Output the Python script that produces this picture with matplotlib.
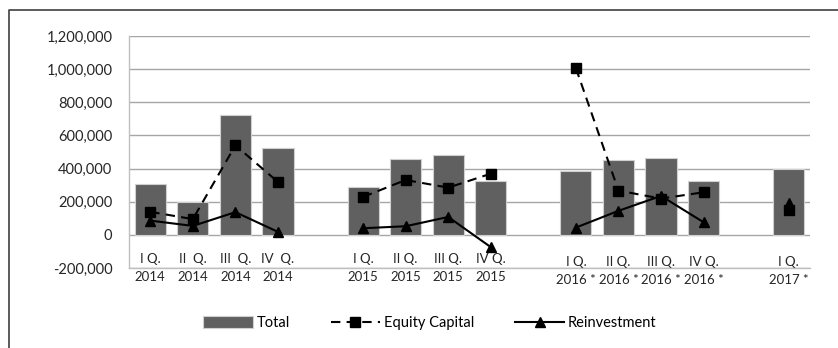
import numpy as np
import matplotlib
matplotlib.use("Agg")
import matplotlib.pyplot as plt
from matplotlib.lines import Line2D
from matplotlib.ticker import FuncFormatter, MultipleLocator

plt.rcParams['font.family'] = ['Lato', 'DejaVu Sans']

# quarters, with an empty slot between the years
quarters = ["I Q.", "II  Q.", "III  Q.", "IV  Q.", "",
            "I Q.", "II Q.", "III Q.", "IV Q.", "",
            "I Q.", "II Q.", "III Q.", "IV Q.", "",
            "I Q."]
years = ["2014", "2014", "2014", "2014", "",
         "2015", "2015", "2015", "2015", "",
         "2016 *", "2016 *", "2016 *", "2016 *", "",
         "2017 *"]

nan = np.nan
total = [307000, 197000, 721000, 522000, nan,
         287000, 458000, 480000, 323000, nan,
         384000, 452000, 464000, 325000, nan,
         398000]
equity = [139000, 95000, 540000, 319000, nan,
          229000, 331000, 285000, 369000, nan,
          1006000, 267000, 219000, 257000, nan,
          148000]
reinvest = [86000, 54000, 137000, 18000, nan,
            40000, 52000, 108000, -74000, nan,
            44000, 145000, 235000, 76000, nan,
            195000]

W, H = 838, 348
fig = plt.figure(figsize=(W / 100, H / 100), dpi=100)
ax = fig.add_axes([129 / W, 1 - 268 / H, (810 - 129) / W, (268 - 36) / H])

x = np.arange(len(quarters))
h_bar = ax.bar(x, total, width=0.73, color='#606060', edgecolor='#d0d0d0',
               linewidth=0.8, zorder=2, label='Total')
h_eq, = ax.plot(x, equity, color='black', linestyle=(0, (4.5, 3)), linewidth=1.5,
                marker='s', markersize=6.5, zorder=3, label='Equity Capital')
h_re, = ax.plot(x, reinvest, color='black', linestyle='-', linewidth=1.5,
                marker='^', markersize=7, zorder=4, label='Reinvestment')

ax.set_xlim(-0.5, len(quarters) - 0.5)
ax.set_ylim(-200000, 1200000)
ax.yaxis.set_major_locator(MultipleLocator(200000))
ax.yaxis.set_major_formatter(FuncFormatter(lambda v, p: f"{int(v):,}"))
ax.grid(axis='y', color='#a6a6a6', linewidth=1.0, zorder=0)
ax.set_axisbelow(True)

for s in ['top', 'right']:
    ax.spines[s].set_visible(False)
for s in ['left', 'bottom']:
    ax.spines[s].set_color('#bfbfbf')
    ax.spines[s].set_linewidth(1.0)

ax.tick_params(axis='y', length=0, pad=12, labelsize=10.5, labelcolor='#262626')
ax.tick_params(axis='x', length=0)
ax.set_xticks([])

# two-line category labels straddling the bottom axis line
for i, (q, yr) in enumerate(zip(quarters, years)):
    if not q:
        continue
    dy = -3 if '*' in yr else 0
    ax.annotate(q, (i, 0), xycoords=('data', 'axes fraction'),
                xytext=(0, 9 + dy), textcoords='offset pixels',
                ha='center', va='center', fontsize=9.5, color='#262626')
    ax.annotate(yr, (i, 0), xycoords=('data', 'axes fraction'),
                xytext=(0, -9 + dy), textcoords='offset pixels',
                ha='center', va='center', fontsize=9.5, color='#262626')

fig.legend([h_bar, h_eq, h_re], ['Total', 'Equity Capital', 'Reinvestment'],
           loc='center', bbox_to_anchor=(430 / W, 1 - 323 / H), ncol=3,
           frameon=False, fontsize=10.5, handlelength=3.4, handleheight=0.8,
           columnspacing=2.8, handletextpad=0.25)

# outer chart border (left and top edges)
fig.add_artist(Line2D([9 / W, 9 / W, 1.0], [0.0, 1 - 10 / H, 1 - 10 / H],
                      transform=fig.transFigure, color='#404040', linewidth=1.2))

fig.savefig("out.png", dpi=100)
